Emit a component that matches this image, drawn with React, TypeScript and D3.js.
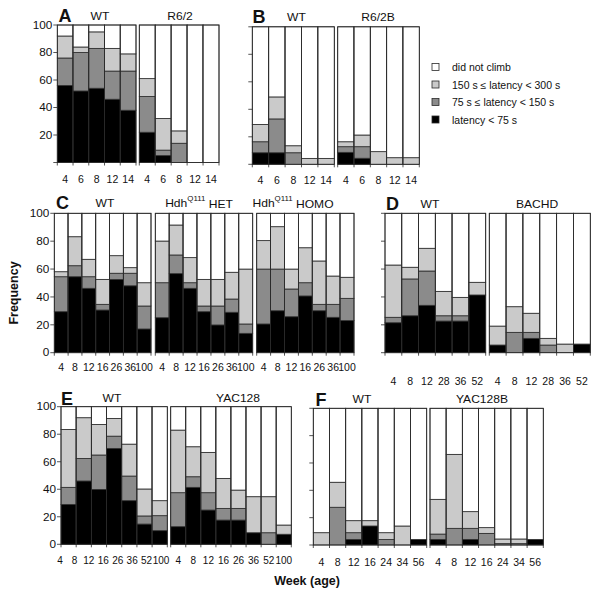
import React from 'react';
import * as d3 from 'd3';

// ---------- DATA (cumulative tops, %): black = latency<75, dark = <150, light = <300 ----------
const weeksAB = ['4', '6', '8', '12', '14'];
const aWtBlack = [56, 52, 54, 46, 38];
const aWtDark = [76, 80, 83, 66.5, 66.5];
const aWtLight = [92, 84, 95, 83, 79];
const aR62Black = [22, 5, 0, 0, 0];
const aR62Dark = [48, 9, 14, 0, 0];
const aR62Light = [61, 32, 23, 0, 0];

const bWtBlack = [8.4, 8.4, 0, 0, 0];
const bWtDark = [16.4, 33, 8.4, 0, 0];
const bWtLight = [29, 49, 13.5, 4.3, 4.3];
const bR62BBlack = [8.7, 4.4, 0, 0, 0];
const bR62BDark = [12.8, 12.8, 0, 0, 0];
const bR62BLight = [16.4, 21.3, 9.2, 4.8, 4.8];

const weeksC = ['4', '8', '12', '16', '26', '36', '100'];
const cWtBlack = [29.4, 54.5, 46.2, 30.6, 52.5, 48, 17];
const cWtDark = [54.5, 62.4, 54.5, 34.7, 57, 57, 33.5];
const cWtLight = [58.1, 83.2, 67, 52.6, 69.6, 61, 50.2];
const cHetBlack = [25.1, 56.7, 46.2, 29.4, 19.9, 29, 13.9];
const cHetDark = [50.2, 70.1, 50.2, 33.5, 33.5, 38.5, 20.6];
const cHetLight = [80.1, 91.6, 68.2, 52.6, 52.6, 57.7, 60];
const cHomoBlack = [20.6, 30.1, 25.8, 40.7, 30.1, 25.4, 23];
const cHomoDark = [60, 60, 45.7, 50.2, 34.7, 34.7, 39];
const cHomoLight = [80.4, 90.4, 60, 75.3, 65.8, 55, 54.1];

const weeksD = ['4', '8', '12', '28', '36', '52'];
const dWtBlack = [21.5, 26.5, 34, 22.7, 22.7, 41.4];
const dWtDark = [25.4, 52.9, 58.6, 26.5, 26.5, 41.4];
const dWtLight = [62.9, 61.3, 74.9, 44, 39.7, 50.5];
const dBachdBlack = [5.5, 0, 10.3, 0, 0, 6.2];
const dBachdDark = [5.5, 14.6, 14.6, 5.5, 0, 6.2];
const dBachdLight = [19.1, 33, 28.3, 10.3, 6.2, 6.2];

const weeksE = ['4', '8', '12', '16', '26', '36', '52', '100'];
const eWtBlack = [29, 46, 39.9, 69.7, 31.7, 14.7, 9.9];
const eWtDark = [41.4, 62.4, 64.9, 78.6, 49.6, 20.6, 20.8];
const eWtLight = [83.5, 92, 87.1, 91.5, 72.8, 40.2, 31.7];
const eYacBlack = [12.8, 41.4, 24.9, 17.6, 17.6, 8.4, 0, 7.3];
const eYacDark = [37.5, 49.1, 37.5, 26.1, 26.1, 8.4, 8.4, 7.3];
const eYacLight = [83, 70.9, 66.8, 47.9, 39.4, 34.6, 34.6, 14];

const weeksF = ['4', '8', '12', '16', '24', '34', '56'];
const fWtBlack = [0, 0, 4.1, 13.9, 0, 0, 4.1];
const fWtDark = [0, 27.6, 9, 13.9, 4, 0, 4.1];
const fWtLight = [9, 45.9, 17.8, 17.8, 9, 13.9, 4.1];
const fYacBBlack = [4.1, 0, 4.1, 0, 0, 0, 4.1];
const fYacBDark = [8, 12.2, 12.2, 8.5, 1, 1, 4.1];
const fYacBLight = [33.4, 66.3, 24.4, 12.7, 4.4, 4.4, 4.1];

const legendLabels = ['did not climb', '150 s \u2264 latency < 300 s', '75 s \u2264 latency < 150 s', 'latency < 75 s'];
const yTicks = [0, 20, 40, 60, 80, 100];

// ---------- STYLE ----------
const C_BLACK = '#000000';
const C_DARK = '#8b8b8b';
const C_LIGHT = '#cacaca';
const C_WHITE = '#ffffff';
const legendColors = [C_WHITE, C_LIGHT, C_DARK, C_BLACK];
const FONT = 'Liberation Sans, Arial, Helvetica, sans-serif';
const STROKE = '#2a2a2a';

function T({ x, y, s = 10, a = 'middle', w = 'normal', sx = 1, children }: any) {
  return (
    <text
      transform={`translate(${x},${y}) scale(${sx},1)`}
      fontSize={s}
      textAnchor={a}
      fontWeight={w}
      dominantBaseline="central"
      fontFamily={FONT}
      fill="#111"
    >
      {children}
    </text>
  );
}

const hdh = (suffix: string) => (
  <>
    Hdh
    <tspan fontSize={7.5} dy={-4.5}>Q111</tspan>
    <tspan dy={4.5}> {suffix}</tspan>
  </>
);

// ---------- LAYOUT ----------
const panels: any[] = [
  {
    letter: 'A', lx: 58.5, ly: 16, y0: 162.5, y100: 25, labels: [20, 40, 60, 80, 100], titleY: 16, catY: 179,
    groups: [
      { x0: 57.3, x1: 136, title: 'WT', tx: 100, cats: weeksAB, black: aWtBlack, dark: aWtDark, light: aWtLight },
      { x0: 139.3, x1: 219, title: 'R6/2', tx: 180, cats: weeksAB, black: aR62Black, dark: aR62Dark, light: aR62Light },
    ],
  },
  {
    letter: 'B', lx: 252.5, ly: 17, y0: 164.3, y100: 26.8, labels: [], titleY: 17, catY: 180,
    groups: [
      { x0: 252.3, x1: 334.3, title: 'WT', tx: 296.5, cats: weeksAB, black: bWtBlack, dark: bWtDark, light: bWtLight },
      { x0: 337.7, x1: 419.3, title: 'R6/2B', tx: 378, cats: weeksAB, black: bR62BBlack, dark: bR62BDark, light: bR62BLight },
    ],
  },
  {
    letter: 'C', lx: 56, ly: 203, y0: 352.7, y100: 213.3, labels: yTicks, titleY: 203, catY: 367,
    groups: [
      { x0: 54.3, x1: 151, title: 'WT', tx: 105, cats: weeksC, black: cWtBlack, dark: cWtDark, light: cWtLight },
      { x0: 155.3, x1: 252.7, title: hdh('HET'), tx: 199, cats: weeksC, black: cHetBlack, dark: cHetDark, light: cHetLight },
      { x0: 256.7, x1: 354, title: hdh('HOMO'), tx: 293, cats: weeksC, black: cHomoBlack, dark: cHomoDark, light: cHomoLight },
    ],
  },
  {
    letter: 'D', lx: 386, ly: 204, y0: 352.7, y100: 213.3, labels: [], titleY: 204, catY: 381,
    groups: [
      { x0: 385, x1: 485.7, title: 'WT', tx: 430, cats: weeksD, black: dWtBlack, dark: dWtDark, light: dWtLight },
      { x0: 489.3, x1: 590.3, title: 'BACHD', tx: 537, cats: weeksD, black: dBachdBlack, dark: dBachdDark, light: dBachdLight },
    ],
  },
  {
    letter: 'E', lx: 61, ly: 399, y0: 544.3, y100: 406.7, labels: yTicks, titleY: 398, catY: 560, catSize: 10,
    groups: [
      { x0: 61, x1: 167.3, title: 'WT', tx: 112, cats: weeksE, black: eWtBlack, dark: eWtDark, light: eWtLight, labelRange: [60, 161] },
      { x0: 170.7, x1: 291.3, title: 'YAC128', tx: 238, cats: weeksE, black: eYacBlack, dark: eYacDark, light: eYacLight, labelRange: null },
    ],
  },
  {
    letter: 'F', lx: 315.5, ly: 400, y0: 545, y100: 408.3, labels: [], titleY: 399, catY: 561.5,
    groups: [
      { x0: 313.3, x1: 426.7, title: 'WT', tx: 362, cats: weeksF, black: fWtBlack, dark: fWtDark, light: fWtLight },
      { x0: 430, x1: 543.3, title: 'YAC128B', tx: 482, cats: weeksF, black: fYacBBlack, dark: fYacBDark, light: fYacBLight },
    ],
  },
];

function Group({ g, y, catY, catSize }: any) {
  const n = g.black.length;
  const x = d3.scaleBand<number>().domain(d3.range(n)).range([g.x0, g.x1]).padding(0);
  const bw = x.bandwidth();
  const bars = d3.range(n).map((i) => {
    const tops = [0, g.black[i], g.dark[i], g.light[i], 100];
    const cols = [C_BLACK, C_DARK, C_LIGHT, C_WHITE];
    return (
      <g key={i}>
        {cols.map((c, k) =>
          tops[k + 1] - tops[k] > 0.01 ? (
            <rect
              key={k}
              x={x(i)}
              y={y(tops[k + 1])}
              width={bw}
              height={y(tops[k]) - y(tops[k + 1])}
              fill={c}
              stroke={STROKE}
              strokeWidth={0.8}
            />
          ) : null
        )}
        <rect x={x(i)} y={y(100)} width={bw} height={y(0) - y(100)} fill="none" stroke={STROKE} strokeWidth={0.8} />
      </g>
    );
  });
  const edges = d3.range(n + 1).map((i) => g.x0 + i * bw);
  let labels;
  if (g.labelRange) {
    const p = d3.scalePoint<string>().domain(g.cats).range(g.labelRange);
    labels = g.cats.map((c: string) => (
      <T key={c} x={p(c)} y={catY} s={catSize || 10.5}>{c}</T>
    ));
  } else {
    labels = g.cats.slice(0, n).map((c: string, i: number) => (
      <T key={c + i} x={(x(i) as number) + bw / 2} y={catY} s={catSize || 10.5}>{c}</T>
    ));
  }
  return (
    <g>
      {bars}
      {edges.map((e, i) => (
        <line key={i} x1={e} x2={e} y1={y(0)} y2={y(0) + 3} stroke={STROKE} strokeWidth={0.8} />
      ))}
      {labels}
    </g>
  );
}

function Panel({ p }: any) {
  const y = d3.scaleLinear().domain([0, 100]).range([p.y0, p.y100]);
  const ax = p.groups[0].x0;
  return (
    <g>
      {p.groups.map((g: any, i: number) => (
        <g key={i}>
          <Group g={g} y={y} catY={p.catY} catSize={p.catSize} />
          <T x={g.tx} y={p.titleY} s={11.5} sx={1.05}>{g.title}</T>
        </g>
      ))}
      {yTicks.map((t) => (
        <line key={t} x1={ax - 4} x2={ax} y1={y(t)} y2={y(t)} stroke={STROKE} strokeWidth={0.8} />
      ))}
      {p.labels.map((t: number) => (
        <T key={t} x={ax - 5} y={y(t)} s={10.5} a="end" sx={1.12}>{t}</T>
      ))}
      <T x={p.lx} y={p.ly} s={18} a="start" w="bold">{p.letter}</T>
    </g>
  );
}

export default function App() {
  return (
    <svg width={600} height={593} style={{ position: 'absolute', left: 0, top: 0, background: '#fff' }}>
      <rect x={0} y={0} width={600} height={593} fill="#fff" />
      {panels.map((p, i) => (
        <Panel key={i} p={p} />
      ))}
      {legendLabels.map((l, i) => (
        <g key={l}>
          <rect x={432} y={63.5 + i * 17.5} width={7} height={7} fill={legendColors[i]} stroke={STROKE} strokeWidth={0.8} />
          <T x={452} y={67 + i * 17.5} s={10.5} a="start">{l}</T>
        </g>
      ))}
      <g transform="translate(14,293) rotate(-90)">
        <T x={0} y={0} s={12.5} w="bold">Frequency</T>
      </g>
      <T x={307} y={581} s={12.5} w="bold">Week (age)</T>
    </svg>
  );
}
